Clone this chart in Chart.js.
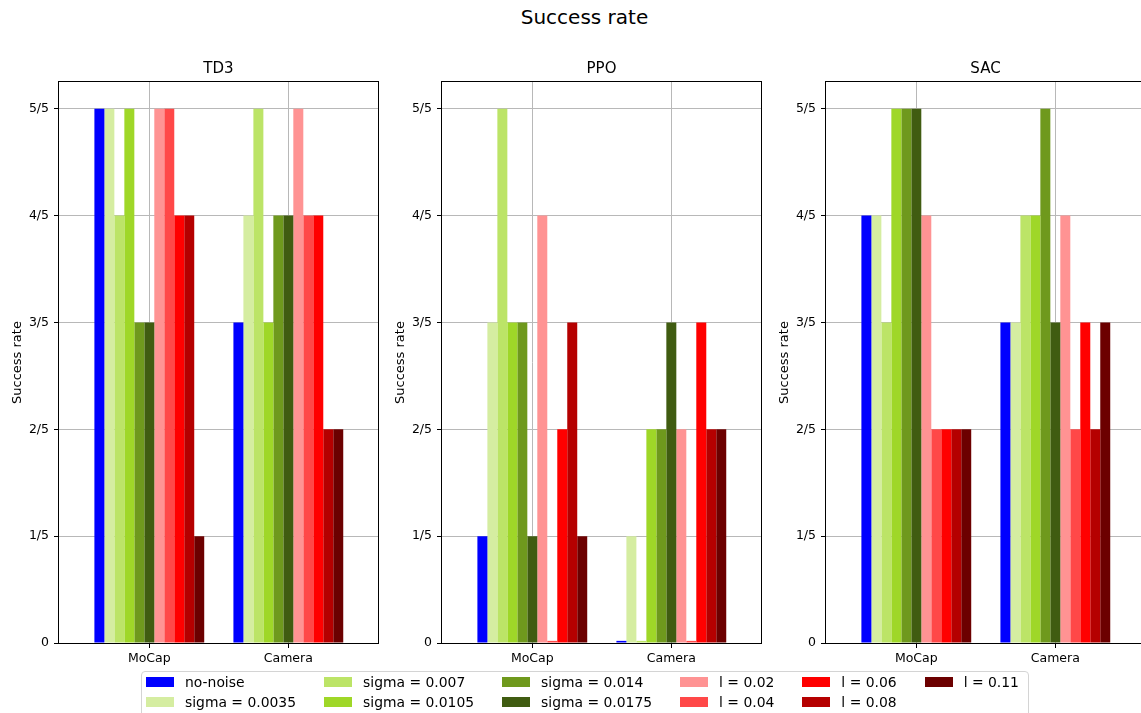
<!DOCTYPE html>
<html>
<head>
<meta charset="utf-8">
<title>Success rate</title>
<script src="https://cdn.jsdelivr.net/npm/chart.js@4.4.1/dist/chart.umd.min.js"></script>
<style>
  html, body { margin: 0; padding: 0; background: #fff; overflow: hidden; width: 1141px; height: 713px; }
  body { position: relative; font-family: 'DejaVu Sans', sans-serif; color: #000; }
  #suptitle { position: absolute; left: 14px; top: 5px; width: 1141px; text-align: center; font-size: 20px; line-height: 24px; }
  canvas { position: absolute; top: 50px; }
  #legend { position: absolute; left: 141px; top: 671px; width: 888px; height: 52px; box-sizing: border-box;
            border: 1px solid #d4d4d4; border-radius: 4px; background: #fff; }
  #legend-grid { position: absolute; left: 4px; top: 0; display: grid; grid-auto-flow: column;
                 grid-template-rows: 20px 20px; column-gap: 28px; }
  .item { display: flex; align-items: center; font-size: 13.9px; white-space: nowrap; }
  .swatch { width: 28px; height: 10px; margin-right: 11px; flex: none; }
</style>
</head>
<body>
<div id="suptitle">Success rate</div>
<canvas id="td3" width="437" height="623" style="left:0px"></canvas>
<canvas id="ppo" width="437" height="623" style="left:383px"></canvas>
<canvas id="sac" width="437" height="623" style="left:767px"></canvas>
<div id="legend"><div id="legend-grid"></div></div>
<script>
const groups = ['MoCap', 'Camera'];
const seriesLabels = [
    'no-noise', 'sigma = 0.0035', 'sigma = 0.007', 'sigma = 0.0105', 'sigma = 0.014', 'sigma = 0.0175',
    'l = 0.02', 'l = 0.04', 'l = 0.06', 'l = 0.08', 'l = 0.11'
];
const seriesColors = [
    '#0000ff', '#d5eda1', '#bce467', '#9fd728', '#6f991d', '#405c11',
    '#ff9393', '#ff4848', '#ff0000', '#b50000', '#6c0000'
];
const yTickLabels = ['0', '1/5', '2/5', '3/5', '4/5', '5/5'];

// successes out of 5, one value per series
const td3MoCap  = [5, 5, 4, 5, 3, 3, 5, 5, 4, 4, 1];
const td3Camera = [3, 4, 5, 3, 4, 4, 5, 4, 4, 2, 2];
const ppoMoCap  = [1, 3, 5, 3, 3, 1, 4, 0.02, 2, 3, 1];
const ppoCamera = [0.02, 1, 0.02, 2, 2, 3, 2, 0.02, 3, 2, 2];
const sacMoCap  = [4, 4, 3, 5, 5, 5, 4, 2, 2, 2, 2];
const sacCamera = [3, 3, 4, 4, 5, 3, 4, 2, 3, 2, 3];

const FONT = "'DejaVu Sans', sans-serif";

// black box round the plot area (all four spines)
const framePlugin = {
    id: 'frame',
    afterDraw(chart) {
        const { ctx, chartArea: a } = chart;
        ctx.save();
        ctx.strokeStyle = '#000';
        ctx.lineWidth = 1;
        ctx.strokeRect(Math.round(a.left) - 0.5, Math.round(a.top) - 0.5,
            Math.round(a.right - a.left) + 1, Math.round(a.bottom - a.top) + 1);
        ctx.restore();
    }
};

function makeChart(id, title, mocap, camera) {
    const datasets = seriesLabels.map((label, i) => ({
        label: label,
        data: [{ x: 0, y: mocap[i] }, { x: 1, y: camera[i] }],
        backgroundColor: seriesColors[i],
        borderWidth: 0,
        categoryPercentage: 0.79,
        barPercentage: 1
    }));

    return new Chart(document.getElementById(id), {
        type: 'bar',
        data: { datasets: datasets },
        plugins: [framePlugin],
        options: {
            responsive: false,
            animation: false,
            layout: { padding: 0 },
            plugins: {
                legend: { display: false },
                tooltip: { enabled: false },
                title: {
                    display: true,
                    text: title,
                    color: '#000',
                    font: { family: FONT, size: 15, weight: 'normal', lineHeight: '20px' },
                    padding: { top: 9, bottom: 3 }
                }
            },
            scales: {
                x: {
                    type: 'linear',
                    min: -0.6496,
                    max: 1.645,
                    offset: false,
                    z: 1,
                    afterBuildTicks: s => { s.ticks = groups.map((g, i) => ({ value: i })); },
                    afterFit: s => { s.height = 30; },
                    ticks: {
                        callback: (v, i) => groups[i],
                        color: '#000',
                        font: { family: FONT, size: 12.5 },
                        padding: 3,
                        maxRotation: 0,
                        autoSkip: false
                    },
                    grid: { offset: false, color: '#b8b8b8', lineWidth: 1, tickColor: '#000', tickLength: 5 },
                    border: { display: false }
                },
                y: {
                    min: 0,
                    max: 5.25,
                    z: 1,
                    afterBuildTicks: s => { s.ticks = yTickLabels.map((t, i) => ({ value: i })); },
                    afterFit: s => { s.width = 59; },
                    ticks: {
                        callback: (v, i) => yTickLabels[i],
                        color: '#000',
                        font: { family: FONT, size: 12.5 },
                        padding: 5
                    },
                    grid: { color: '#b8b8b8', lineWidth: 1, tickColor: '#000', tickLength: 5 },
                    border: { display: false },
                    title: {
                        display: true,
                        text: 'Success rate',
                        color: '#000',
                        font: { family: FONT, size: 13 },
                        padding: { top: 9.5, bottom: 0 }
                    }
                },
                // empty right-hand axis so the plot title centres over the plot area
                pad: {
                    type: 'linear',
                    position: 'right',
                    display: true,
                    afterFit: s => { s.width = 59; },
                    ticks: { display: false },
                    grid: { display: false },
                    border: { display: false }
                }
            }
        }
    });
}

makeChart('td3', 'TD3', td3MoCap, td3Camera);
makeChart('ppo', 'PPO', ppoMoCap, ppoCamera);
makeChart('sac', 'SAC', sacMoCap, sacCamera);

// figure legend, filled column by column like the original
const legendGrid = document.getElementById('legend-grid');
seriesLabels.forEach((label, i) => {
    const item = document.createElement('div');
    item.className = 'item';
    const sw = document.createElement('span');
    sw.className = 'swatch';
    sw.style.background = seriesColors[i];
    const txt = document.createElement('span');
    txt.textContent = label;
    item.appendChild(sw);
    item.appendChild(txt);
    legendGrid.appendChild(item);
});
</script>
</body>
</html>
